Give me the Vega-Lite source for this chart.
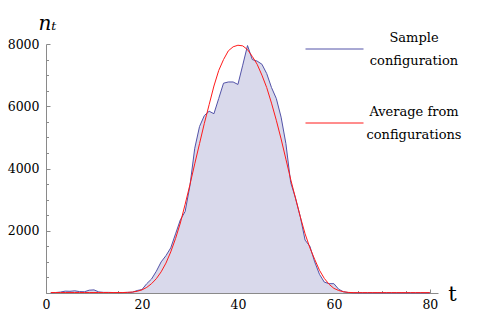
{
  "$schema": "https://vega.github.io/schema/vega-lite/v6.json",
  "autosize": {"type": "none"},
  "width": 392,
  "height": 249,
  "padding": {"left": 46, "top": 44, "right": 62, "bottom": 31},
  "background": "white",
  "config": {
    "font": "DejaVu Serif",
    "view": {"stroke": null},
    "axis": {"grid": false, "domainColor": "#8a8a8a", "tickColor": "#8a8a8a", "labelColor": "black", "labelFont": "DejaVu Serif", "labelFontSize": 12.5, "titleFont": "DejaVu Serif", "titleFontWeight": "normal", "titleColor": "black"}
  },
  "datasets": {
    "curves": [
      {"t":1,"v":10,"s":"Sample configuration"},{"t":2,"v":15,"s":"Sample configuration"},{"t":3,"v":30,"s":"Sample configuration"},{"t":4,"v":60,"s":"Sample configuration"},{"t":5,"v":55,"s":"Sample configuration"},{"t":6,"v":70,"s":"Sample configuration"},{"t":7,"v":45,"s":"Sample configuration"},{"t":8,"v":40,"s":"Sample configuration"},{"t":9,"v":90,"s":"Sample configuration"},{"t":10,"v":100,"s":"Sample configuration"},
      {"t":11,"v":35,"s":"Sample configuration"},{"t":12,"v":20,"s":"Sample configuration"},{"t":13,"v":20,"s":"Sample configuration"},{"t":14,"v":15,"s":"Sample configuration"},{"t":15,"v":15,"s":"Sample configuration"},{"t":16,"v":15,"s":"Sample configuration"},{"t":17,"v":20,"s":"Sample configuration"},{"t":18,"v":25,"s":"Sample configuration"},{"t":19,"v":80,"s":"Sample configuration"},{"t":20,"v":110,"s":"Sample configuration"},
      {"t":21,"v":300,"s":"Sample configuration"},{"t":22,"v":450,"s":"Sample configuration"},{"t":23,"v":700,"s":"Sample configuration"},{"t":24,"v":1000,"s":"Sample configuration"},{"t":25,"v":1200,"s":"Sample configuration"},{"t":26,"v":1450,"s":"Sample configuration"},{"t":27,"v":1900,"s":"Sample configuration"},{"t":28,"v":2350,"s":"Sample configuration"},{"t":29,"v":2620,"s":"Sample configuration"},{"t":30,"v":3450,"s":"Sample configuration"},
      {"t":31,"v":4650,"s":"Sample configuration"},{"t":32,"v":5350,"s":"Sample configuration"},{"t":33,"v":5700,"s":"Sample configuration"},{"t":34,"v":5840,"s":"Sample configuration"},{"t":35,"v":5760,"s":"Sample configuration"},{"t":36,"v":6250,"s":"Sample configuration"},{"t":37,"v":6740,"s":"Sample configuration"},{"t":38,"v":6780,"s":"Sample configuration"},{"t":39,"v":6780,"s":"Sample configuration"},{"t":40,"v":6700,"s":"Sample configuration"},
      {"t":41,"v":7320,"s":"Sample configuration"},{"t":42,"v":7950,"s":"Sample configuration"},{"t":43,"v":7500,"s":"Sample configuration"},{"t":44,"v":7450,"s":"Sample configuration"},{"t":45,"v":7350,"s":"Sample configuration"},{"t":46,"v":7050,"s":"Sample configuration"},{"t":47,"v":6600,"s":"Sample configuration"},{"t":48,"v":6250,"s":"Sample configuration"},{"t":49,"v":5650,"s":"Sample configuration"},{"t":50,"v":4800,"s":"Sample configuration"},
      {"t":51,"v":3550,"s":"Sample configuration"},{"t":52,"v":3050,"s":"Sample configuration"},{"t":53,"v":2450,"s":"Sample configuration"},{"t":54,"v":1700,"s":"Sample configuration"},{"t":55,"v":1500,"s":"Sample configuration"},{"t":56,"v":1000,"s":"Sample configuration"},{"t":57,"v":600,"s":"Sample configuration"},{"t":58,"v":350,"s":"Sample configuration"},{"t":59,"v":300,"s":"Sample configuration"},{"t":60,"v":300,"s":"Sample configuration"},
      {"t":61,"v":120,"s":"Sample configuration"},{"t":62,"v":40,"s":"Sample configuration"},{"t":63,"v":15,"s":"Sample configuration"},{"t":64,"v":8,"s":"Sample configuration"},{"t":65,"v":5,"s":"Sample configuration"},{"t":66,"v":5,"s":"Sample configuration"},{"t":67,"v":5,"s":"Sample configuration"},{"t":68,"v":5,"s":"Sample configuration"},{"t":69,"v":5,"s":"Sample configuration"},{"t":70,"v":5,"s":"Sample configuration"},
      {"t":71,"v":5,"s":"Sample configuration"},{"t":72,"v":5,"s":"Sample configuration"},{"t":73,"v":5,"s":"Sample configuration"},{"t":74,"v":5,"s":"Sample configuration"},{"t":75,"v":5,"s":"Sample configuration"},{"t":76,"v":5,"s":"Sample configuration"},{"t":77,"v":5,"s":"Sample configuration"},{"t":78,"v":5,"s":"Sample configuration"},{"t":79,"v":5,"s":"Sample configuration"},{"t":80,"v":5,"s":"Sample configuration"},
      {"t":1,"v":15,"s":"Average from configurations"},{"t":2,"v":15,"s":"Average from configurations"},{"t":3,"v":15,"s":"Average from configurations"},{"t":4,"v":15,"s":"Average from configurations"},{"t":5,"v":15,"s":"Average from configurations"},{"t":6,"v":15,"s":"Average from configurations"},{"t":7,"v":15,"s":"Average from configurations"},{"t":8,"v":15,"s":"Average from configurations"},{"t":9,"v":15,"s":"Average from configurations"},{"t":10,"v":15,"s":"Average from configurations"},
      {"t":11,"v":15,"s":"Average from configurations"},{"t":12,"v":15,"s":"Average from configurations"},{"t":13,"v":15,"s":"Average from configurations"},{"t":14,"v":15,"s":"Average from configurations"},{"t":15,"v":15,"s":"Average from configurations"},{"t":16,"v":15,"s":"Average from configurations"},{"t":17,"v":20,"s":"Average from configurations"},{"t":18,"v":30,"s":"Average from configurations"},{"t":19,"v":55,"s":"Average from configurations"},{"t":20,"v":100,"s":"Average from configurations"},
      {"t":21,"v":180,"s":"Average from configurations"},{"t":22,"v":300,"s":"Average from configurations"},{"t":23,"v":460,"s":"Average from configurations"},{"t":24,"v":680,"s":"Average from configurations"},{"t":25,"v":960,"s":"Average from configurations"},{"t":26,"v":1320,"s":"Average from configurations"},{"t":27,"v":1750,"s":"Average from configurations"},{"t":28,"v":2250,"s":"Average from configurations"},{"t":29,"v":2850,"s":"Average from configurations"},{"t":30,"v":3480,"s":"Average from configurations"},
      {"t":31,"v":4150,"s":"Average from configurations"},{"t":32,"v":4800,"s":"Average from configurations"},{"t":33,"v":5450,"s":"Average from configurations"},{"t":34,"v":6050,"s":"Average from configurations"},{"t":35,"v":6650,"s":"Average from configurations"},{"t":36,"v":7150,"s":"Average from configurations"},{"t":37,"v":7500,"s":"Average from configurations"},{"t":38,"v":7780,"s":"Average from configurations"},{"t":39,"v":7910,"s":"Average from configurations"},{"t":40,"v":7960,"s":"Average from configurations"},
      {"t":41,"v":7940,"s":"Average from configurations"},{"t":42,"v":7820,"s":"Average from configurations"},{"t":43,"v":7600,"s":"Average from configurations"},{"t":44,"v":7350,"s":"Average from configurations"},{"t":45,"v":7000,"s":"Average from configurations"},{"t":46,"v":6600,"s":"Average from configurations"},{"t":47,"v":6100,"s":"Average from configurations"},{"t":48,"v":5550,"s":"Average from configurations"},{"t":49,"v":4950,"s":"Average from configurations"},{"t":50,"v":4300,"s":"Average from configurations"},
      {"t":51,"v":3650,"s":"Average from configurations"},{"t":52,"v":3050,"s":"Average from configurations"},{"t":53,"v":2450,"s":"Average from configurations"},{"t":54,"v":1900,"s":"Average from configurations"},{"t":55,"v":1450,"s":"Average from configurations"},{"t":56,"v":1080,"s":"Average from configurations"},{"t":57,"v":730,"s":"Average from configurations"},{"t":58,"v":470,"s":"Average from configurations"},{"t":59,"v":280,"s":"Average from configurations"},{"t":60,"v":150,"s":"Average from configurations"},
      {"t":61,"v":80,"s":"Average from configurations"},{"t":62,"v":40,"s":"Average from configurations"},{"t":63,"v":20,"s":"Average from configurations"},{"t":64,"v":12,"s":"Average from configurations"},{"t":65,"v":12,"s":"Average from configurations"},{"t":66,"v":12,"s":"Average from configurations"},{"t":67,"v":12,"s":"Average from configurations"},{"t":68,"v":12,"s":"Average from configurations"},{"t":69,"v":12,"s":"Average from configurations"},{"t":70,"v":12,"s":"Average from configurations"},
      {"t":71,"v":12,"s":"Average from configurations"},{"t":72,"v":12,"s":"Average from configurations"},{"t":73,"v":12,"s":"Average from configurations"},{"t":74,"v":12,"s":"Average from configurations"},{"t":75,"v":12,"s":"Average from configurations"},{"t":76,"v":12,"s":"Average from configurations"},{"t":77,"v":12,"s":"Average from configurations"},{"t":78,"v":12,"s":"Average from configurations"},{"t":79,"v":12,"s":"Average from configurations"},{"t":80,"v":12,"s":"Average from configurations"}
    ]
  },
  "data": {"name": "curves"},
  "encoding": {
    "x": {"field": "t", "type": "quantitative",
      "scale": {"domain": [0, 81.7], "nice": false, "zero": false},
      "axis": {"values": [0,5,10,15,20,25,30,35,40,45,50,55,60,65,70,75,80],
        "labelExpr": "datum.value % 20 === 0 ? datum.label : ''",
        "tickSize": {"condition": {"test": "datum.value % 20 === 0", "value": -4}, "value": -2.5},
        "labelPadding": 9, "labelFlush": false, "labelOverlap": false,
        "title": "t", "titleFontSize": 21, "titleX": 406, "titleY": 7, "titleAlign": "center", "titleBaseline": "alphabetic"}},
    "y": {"field": "v", "type": "quantitative",
      "scale": {"domain": [0, 8000], "nice": false},
      "axis": {"values": [0,500,1000,1500,2000,2500,3000,3500,4000,4500,5000,5500,6000,6500,7000,7500,8000],
        "labelExpr": "datum.value % 2000 === 0 && datum.value > 0 ? datum.value : ''",
        "tickSize": {"condition": {"test": "datum.value % 2000 === 0", "value": -4}, "value": -2.5},
        "labelPadding": 11, "labelFlush": false, "labelOverlap": false,
        "title": "nₜ", "titleFontSize": 20, "titleFontStyle": "italic", "titleAngle": 0,
        "titleX": 1, "titleY": -15, "titleAlign": "center", "titleBaseline": "alphabetic"}}
  },
  "layer": [
    {
      "transform": [{"filter": "datum.s === 'Sample configuration'"}],
      "mark": {"type": "area", "color": "#d9d9eb", "opacity": 1}
    },
    {
      "mark": {"type": "line", "strokeWidth": 1},
      "encoding": {
        "color": {"field": "s", "type": "nominal",
          "scale": {"domain": ["Sample configuration", "Average from configurations"], "range": ["#5252a8", "#ff1a1a"]},
          "legend": {"orient": "none", "legendX": 248, "legendY": -36.5, "title": null,
            "symbolType": "stroke", "symbolSize": 3364, "symbolStrokeWidth": 1,
            "labelFont": "DejaVu Serif", "labelFontSize": 13, "labelColor": "black",
            "labelAlign": "center", "labelOffset": 50, "labelLimit": 300,
            "labelExpr": "datum.label == 'Sample configuration' ? ['Sample','configuration'] : ['Average from','configurations']",
            "rowPadding": 13, "clipHeight": 61, "padding": 11,
            "encode": {"labels": {"update": {"lineHeight": {"value": 23}, "dy": {"value": -11.5}}}}}}
      }
    }
  ]
}
